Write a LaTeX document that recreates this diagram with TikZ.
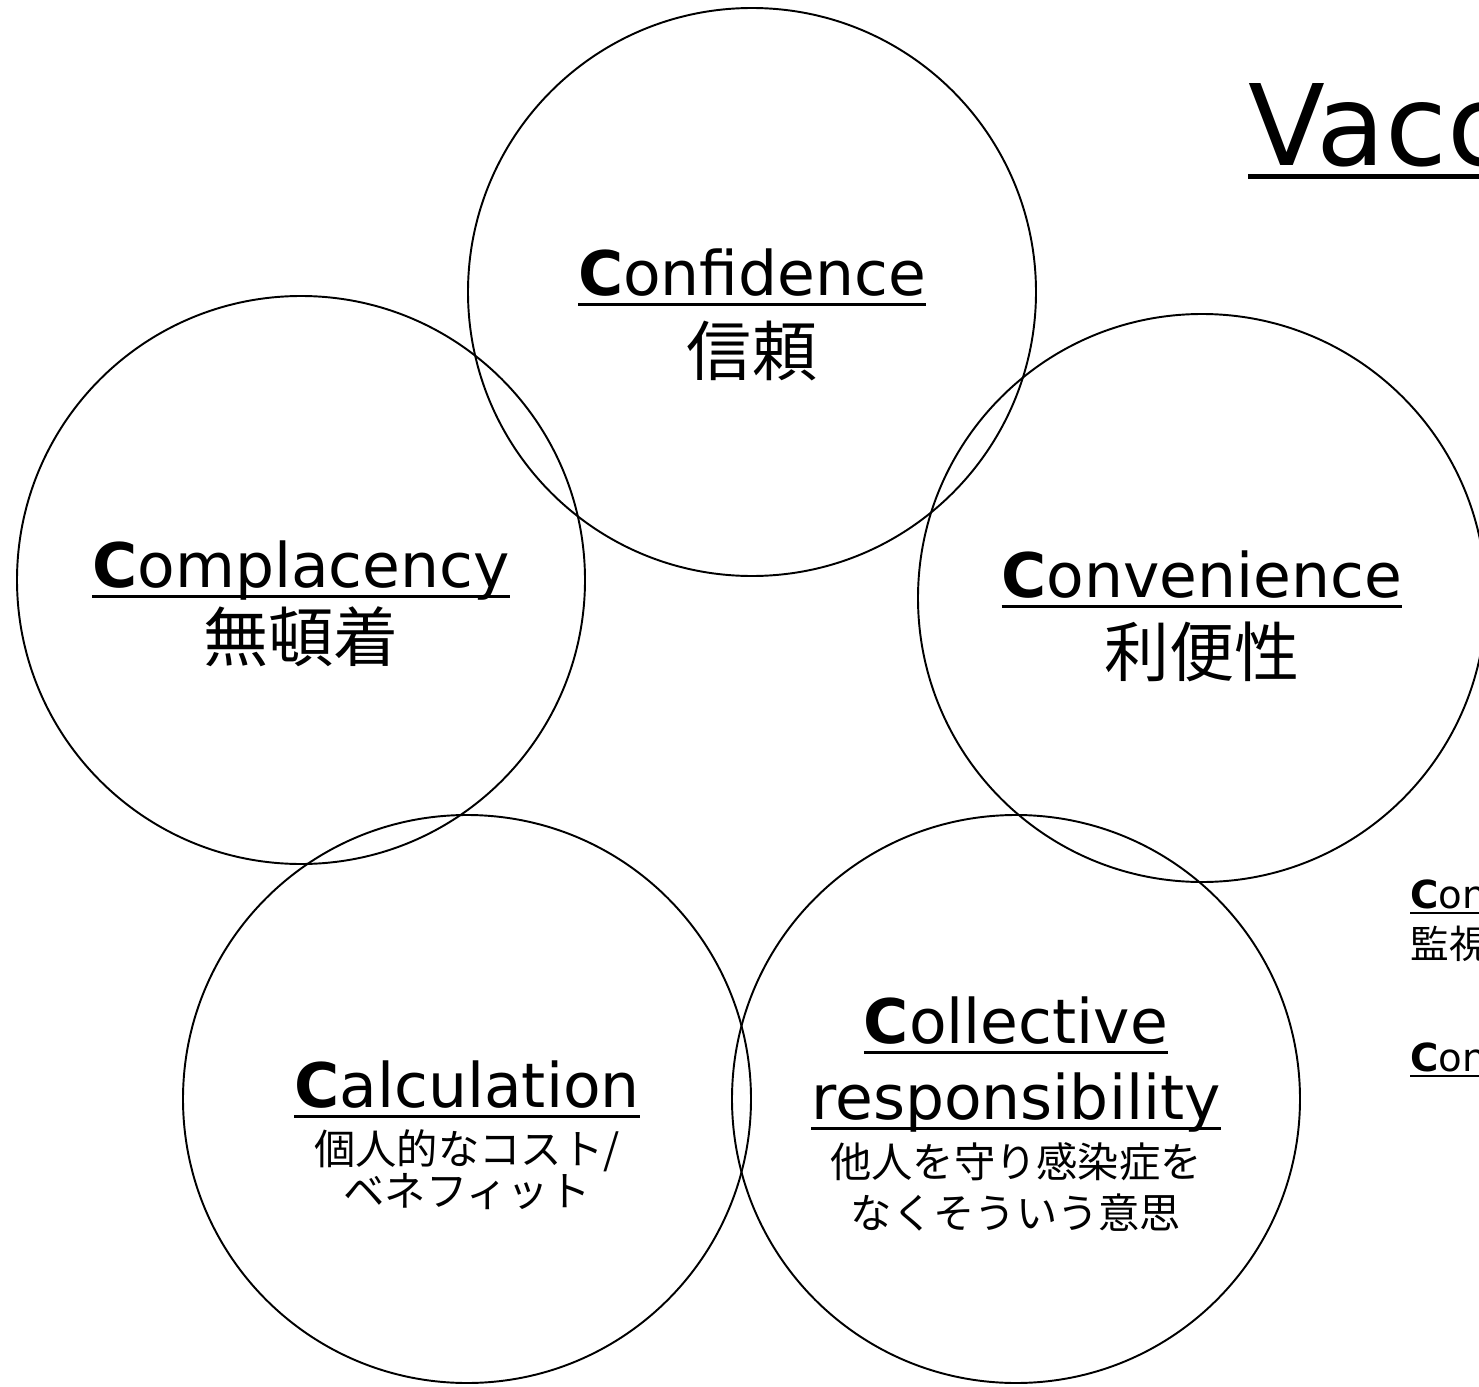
\documentclass[tikz,border=0pt]{standalone}
\usepackage{fontspec}
\setmainfont{DejaVu Sans}
\newfontfamily\jpfont{Noto Sans CJK JP}
\newsavebox\ulsave
\newlength\uldepth \setlength\uldepth{6pt}
\newlength\ulthick \setlength\ulthick{1.5pt}
\newcommand{\ulbox}[1]{\sbox\ulsave{#1}\rlap{\rule[-\uldepth]{\wd\ulsave}{\ulthick}}\usebox\ulsave}
\newcommand{\cword}[2]{\ulbox{\textbf{#1}#2}}
\usetikzlibrary{positioning}

\begin{document}
\begin{tikzpicture}[
    ring/.style={line width=1.1pt},
    en/.style={anchor=base,inner sep=0pt,font=\fontsize{35}{42}\selectfont},
    jp/.style={anchor=base,inner sep=0pt,font=\jpfont\fontsize{37}{44}\selectfont},
    jpsmall/.style={anchor=base,inner sep=0pt,font=\jpfont\fontsize{23.5}{28}\selectfont},
    side/.style={anchor=base west,inner sep=0pt,font=\fontsize{22}{26}\selectfont\setlength\uldepth{3.5pt}\setlength\ulthick{1.1pt}},
    sidejp/.style={anchor=base west,inner sep=0pt,font=\jpfont\fontsize{22}{26}\selectfont}]
    \useasboundingbox (0,0) rectangle (29.58,-27.74);
    % the five C circles
    \draw[ring] (15.04,-5.84) circle (5.68);
    \draw[ring] (6.02,-11.60) circle (5.68);
    \draw[ring] (24.04,-11.96) circle (5.68);
    \draw[ring] (9.34,-21.98) circle (5.68);
    \draw[ring] (20.32,-21.98) circle (5.68);

    \node[en] (conf) at (15.04,-5.90) {\cword{C}{onfidence}};
    \node[jp] (confjp) at (15.04,-7.50) {信頼};

    \node[en] (compl) at (6.02,-11.74) {\cword{C}{omplacency}};
    \node[jp] (compljp) at (6.02,-13.22) {無頓着};

    \node[en] (conv) at (24.04,-11.94) {\cword{C}{onvenience}};
    \node[jp] (convjp) at (24.04,-13.52) {利便性};

    \node[en] (calc) at (9.34,-22.14) {\cword{C}{alculation}};
    \node[jpsmall] (calcjp) at (9.34,-23.28) {個人的なコスト/};
    \node[jpsmall] (calcjpb) at (9.34,-24.12) {ベネフィット};

    \node[en] (coll) at (20.32,-20.86) {\cword{C}{ollective}};
    \node[en] (collb) at (20.32,-22.38) {\ulbox{responsibility}};
    \node[jpsmall] (colljp) at (20.32,-23.54) {他人を守り感染症を};
    \node[jpsmall] (colljpb) at (20.32,-24.56) {なくそういう意思};

    % title and side notes, cut at the right edge
    \node[anchor=base west,inner sep=0pt,font=\fontsize{64}{72}\selectfont\setlength\uldepth{8.2pt}\setlength\ulthick{2.8pt}] (title) at (24.96,-3.30) {\ulbox{Vacc}};
    \node[side] (ctrl) at (28.20,-18.16) {\cword{C}{on}};
    \node[sidejp] (ctrljp) at (28.20,-19.16) {監視};
    \node[side] (cons) at (28.20,-21.42) {\cword{C}{on}};
\end{tikzpicture}
\end{document}
